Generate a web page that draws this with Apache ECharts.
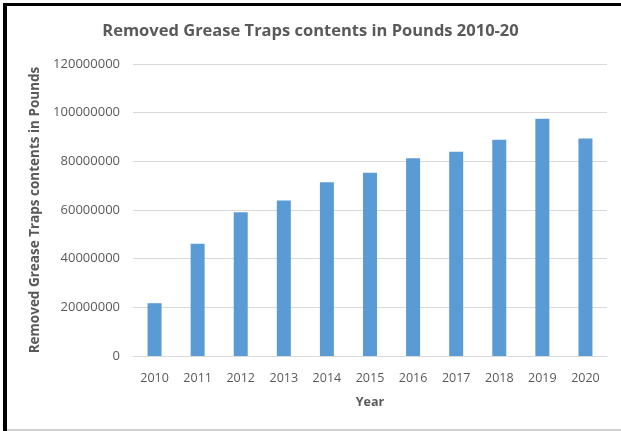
<!DOCTYPE html>
<html><head><meta charset="utf-8">
<script src="https://cdn.jsdelivr.net/npm/echarts@6/dist/echarts.min.js"></script>
<style>html,body{margin:0;padding:0;background:#fff}#c{width:621px;height:431px}</style>
</head><body><div id="c"></div>
<script>
var years = ['2010','2011','2012','2013','2014','2015','2016','2017','2018','2019','2020'];
var pounds = [21700000, 46100000, 59100000, 63900000, 71400000, 75300000, 81300000, 83900000, 88900000, 97500000, 89400000];
var yTicks = [0, 20000000, 40000000, 60000000, 80000000, 100000000, 120000000];

var chart = echarts.init(document.getElementById('c'), null, {renderer:'canvas'});
var font = 'Open Sans, Noto Sans, sans-serif';
chart.setOption({
  animation:false,
  backgroundColor:'#fff',
  title:{text:'Removed Grease Traps contents in Pounds 2010-20', left:'center', top:18,
    textStyle:{fontFamily:font, fontSize:16.5, fontWeight:'bold', color:'#595959'}},
  grid:{left:133, right:14, top:64, bottom:75},
  xAxis:{type:'category', data:years,
    name:'Year', nameLocation:'middle', nameGap:40,
    nameTextStyle:{fontFamily:font, fontSize:12.5, fontWeight:'bold', color:'#595959'},
    axisLine:{lineStyle:{color:'#d9d9d9', width:1}}, axisTick:{show:false},
    axisLabel:{fontFamily:font, fontSize:12.5, color:'#595959', margin:16}},
  yAxis:{type:'value', min:yTicks[0], max:yTicks[yTicks.length-1], interval:20000000,
    name:'Removed Grease Traps contents in Pounds', nameLocation:'middle', nameGap:85, nameRotate:90,
    nameTextStyle:{fontFamily:font, fontSize:13.5, fontWeight:'bold', color:'#595959'},
    axisLine:{show:false}, axisTick:{show:false},
    splitLine:{lineStyle:{color:'#d9d9d9', width:1}},
    axisLabel:{fontFamily:font, fontSize:13, color:'#595959', margin:13,
      formatter:function(v){return String(v);}}},
  series:[{type:'bar', data:pounds, barWidth:14,
    itemStyle:{color:'#5b9bd5'}}],
  graphic:[
    {type:'rect', shape:{x:3, y:3, width:4, height:428}, style:{fill:'#000'}, silent:true},
    {type:'rect', shape:{x:3, y:3, width:618, height:3}, style:{fill:'#000'}, silent:true},
    {type:'rect', shape:{x:7, y:429, width:614, height:2}, style:{fill:'#d0d0d0'}, silent:true}
  ]
});
</script></body></html>
